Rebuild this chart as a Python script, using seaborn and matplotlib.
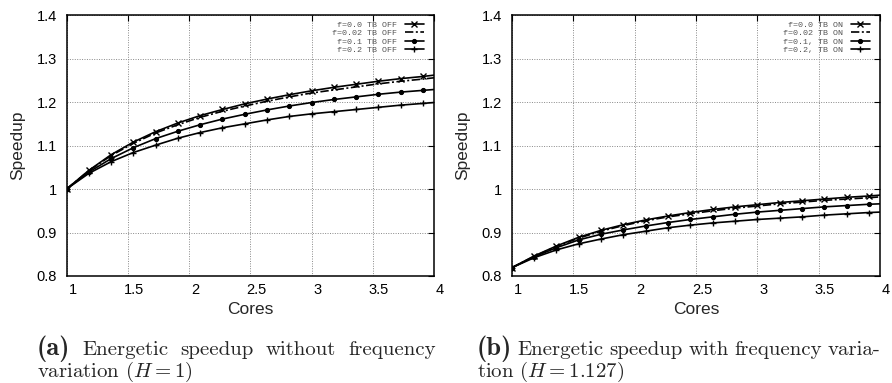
import numpy as np
import pandas as pd
import seaborn as sns
import matplotlib.pyplot as plt
from matplotlib.transforms import ScaledTranslation

# cores sampled along the curves (markers on all but the last point)
cores = [1.0, 1.182, 1.364, 1.545, 1.727, 1.909, 2.091, 2.273, 2.455,
         2.636, 2.818, 3.0, 3.182, 3.364, 3.545, 3.727, 3.909, 4.0]

# (a) without frequency variation, H = 1
off_f00 = [1.0, 1.043, 1.079, 1.108, 1.132, 1.152, 1.169, 1.183, 1.196,
           1.207, 1.217, 1.226, 1.234, 1.241, 1.248, 1.254, 1.259, 1.262]
off_f002 = [1.0, 1.042, 1.077, 1.105, 1.129, 1.148, 1.165, 1.179, 1.191,
            1.202, 1.212, 1.221, 1.228, 1.235, 1.242, 1.248, 1.253, 1.256]
off_f01 = [1.0, 1.039, 1.070, 1.095, 1.116, 1.133, 1.148, 1.161, 1.172,
           1.182, 1.191, 1.199, 1.206, 1.212, 1.218, 1.223, 1.227, 1.229]
off_f02 = [1.0, 1.036, 1.063, 1.084, 1.101, 1.117, 1.130, 1.141, 1.150,
           1.159, 1.167, 1.173, 1.178, 1.183, 1.188, 1.193, 1.197, 1.199]

# (b) with frequency variation, H = 1.127
on_f00 = [0.819, 0.846, 0.869, 0.889, 0.905, 0.918, 0.929, 0.938, 0.946,
          0.953, 0.959, 0.964, 0.969, 0.973, 0.977, 0.981, 0.984, 0.986]
on_f002 = [0.819, 0.845, 0.868, 0.887, 0.903, 0.916, 0.927, 0.936, 0.943,
           0.950, 0.956, 0.961, 0.966, 0.970, 0.974, 0.977, 0.980, 0.982]
on_f01 = [0.819, 0.844, 0.865, 0.883, 0.896, 0.906, 0.915, 0.923, 0.930,
          0.936, 0.942, 0.947, 0.951, 0.955, 0.959, 0.962, 0.965, 0.966]
on_f02 = [0.819, 0.842, 0.860, 0.874, 0.885, 0.895, 0.903, 0.911, 0.917,
          0.922, 0.926, 0.930, 0.933, 0.936, 0.940, 0.943, 0.946, 0.947]

labels_off = ["f=0.0 TB OFF", "f=0.02 TB OFF", "f=0.1 TB OFF", "f=0.2 TB OFF"]
labels_on = ["f=0.0 TB ON", "f=0.02 TB ON", "f=0.1, TB ON", "f=0.2, TB ON"]
xticks = [1, 1.5, 2, 2.5, 3, 3.5, 4]
yticks = [0.8, 0.9, 1.0, 1.1, 1.2, 1.3, 1.4]
ytick_labels = ["0.8", "0.9", "1", "1.1", "1.2", "1.3", "1.4"]
xtick_labels = ["1", "1.5", "2", "2.5", "3", "3.5", "4"]

sns.set_theme(style="white")
plt.rcParams['font.family'] = ['Liberation Sans', 'DejaVu Sans']
plt.rcParams['mathtext.fontset'] = 'cm'

styles = [
    dict(marker='x', markersize=4.5, markeredgewidth=1.0, linestyle='-'),
    dict(marker=None, linestyle=(0, (5, 1.5, 1.2, 1.5))),
    dict(marker='o', markersize=3, linestyle='-'),
    dict(marker='+', markersize=5, markeredgewidth=1.0, linestyle='-'),
]

fig = plt.figure(figsize=(8.92, 3.83), dpi=100)
ax_a = fig.add_axes([0.0746, 0.2794, 0.412, 0.681])
ax_b = fig.add_axes([0.5737, 0.2794, 0.4129, 0.681])


def draw_panel(ax, series, labels):
    for ys, lab, st in zip(series, labels, styles):
        df = pd.DataFrame({'Cores': cores, 'Speedup': ys})
        sns.lineplot(x='Cores', y='Speedup', data=df, ax=ax, color='black',
                     linewidth=1.2, label=lab, markevery=slice(0, 17),
                     markeredgecolor='black', markerfacecolor='black', **st)
    ax.set_xlim(1, 4)
    ax.set_ylim(0.8, 1.4)
    ax.set_xticks(xticks)
    ax.set_xticklabels(xtick_labels)
    ax.set_yticks(yticks)
    ax.set_yticklabels(ytick_labels)
    ax.grid(True, linestyle=(0, (1, 1.5)), color='#888888', linewidth=0.7)
    ax.tick_params(direction='in', length=4, width=0.8, top=True, right=True,
                   labelsize=10.5, colors='black', pad=7)
    ax.tick_params(axis='x', pad=5)
    for lbl in ax.get_xticklabels():
        lbl.set_transform(lbl.get_transform() +
                          ScaledTranslation(0.06, 0, fig.dpi_scale_trans))
    for sp in ax.spines.values():
        sp.set_color('black')
        sp.set_linewidth(1.1)
    ax.set_xlabel('Cores', fontsize=12.5, labelpad=4)
    ax.set_ylabel('Speedup', fontsize=12.5, labelpad=8)
    w_px = ax.get_position().width * 892
    h_px = ax.get_position().height * 383
    leg = ax.legend(loc='upper right', frameon=False, markerfirst=False,
                    prop={'family': 'Liberation Mono', 'size': 6},
                    labelspacing=0.05, handlelength=2.3, handletextpad=1.0,
                    borderaxespad=0, borderpad=0,
                    bbox_to_anchor=(1 - 10 / w_px, 1 - 6 / h_px))
    for t in leg.get_texts():
        t.set_color('#555555')


draw_panel(ax_a, [off_f00, off_f002, off_f01, off_f02], labels_off)
draw_panel(ax_b, [on_f00, on_f002, on_f01, on_f02], labels_on)

# captions, first lines justified between the given pixel edges
renderer = fig.canvas.get_renderer()
cap_font = dict(family=['cmr10', 'DejaVu Serif'], size=15)
bold_font = dict(family=['cmb10', 'DejaVu Serif'], size=19)


def justify(words, x0, x1, y):
    texts = []
    for i, w in enumerate(words):
        kw = bold_font if i == 0 else cap_font
        texts.append(fig.text(0, y, w, va='baseline', **kw))
    widths = [t.get_window_extent(renderer).width for t in texts]
    gap = (x1 - x0 - sum(widths)) / (len(words) - 1)
    x = x0
    for t, wd in zip(texts, widths):
        t.set_x(x / 892)
        x += wd + gap


y1 = 1 - 355 / 383
y2 = 1 - 377 / 383
justify(["(a)", "Energetic", "speedup", "without", "frequency"], 37, 436, y1)
fig.text(37 / 892, y2, "variation ($H = 1$)", va='baseline', **cap_font)
justify(["(b)", "Energetic", "speedup", "with", "frequency", "varia-"], 477, 880, y1)
fig.text(477 / 892, y2, "tion ($H = 1.127$)", va='baseline', **cap_font)

fig.savefig('out.png', dpi=100)
